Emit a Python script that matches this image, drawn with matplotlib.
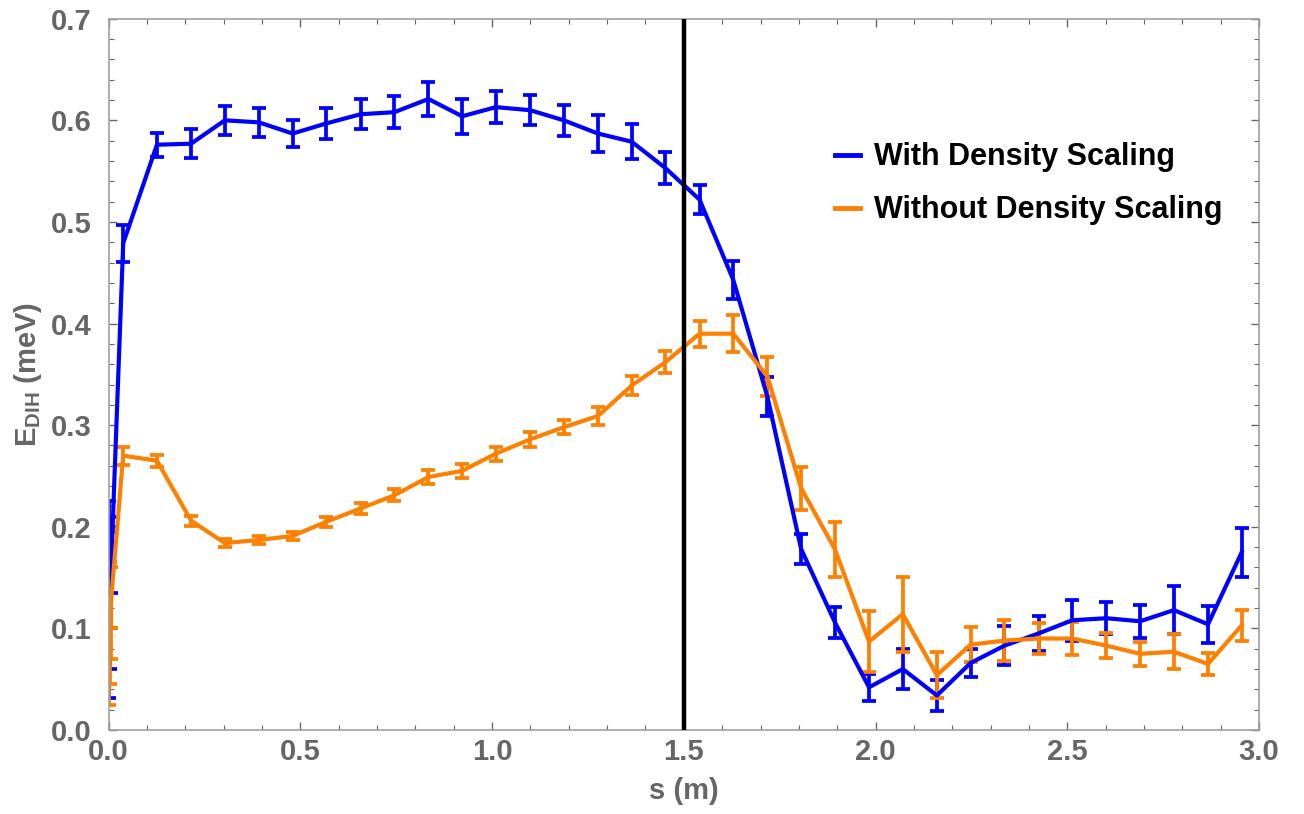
import matplotlib
matplotlib.use("Agg")
import matplotlib.pyplot as plt
from matplotlib.ticker import MultipleLocator
from matplotlib.lines import Line2D

plt.rcParams['font.family'] = ['Liberation Sans', 'DejaVu Sans']
plt.rcParams['font.weight'] = 'bold'
plt.rcParams['axes.labelweight'] = 'bold'
plt.rcParams['mathtext.fontset'] = 'custom'
plt.rcParams['mathtext.rm'] = 'Liberation Sans:bold'

# positions along s (m)
s = [0.001, 0.003, 0.005, 0.007,
     0.038, 0.126, 0.215, 0.303, 0.392, 0.480, 0.568, 0.657, 0.745, 0.834,
     0.922, 1.010, 1.099, 1.187, 1.276, 1.364, 1.452, 1.541, 1.629, 1.718,
     1.806, 1.894, 1.983, 2.071, 2.160, 2.248, 2.336, 2.425, 2.513, 2.602,
     2.690, 2.778, 2.867, 2.955]

# with density scaling
with_val = [0.128, 0.135, 0.150, 0.165,
            0.479, 0.576, 0.577, 0.600, 0.598, 0.587, 0.597, 0.606, 0.608, 0.621,
            0.604, 0.613, 0.610, 0.600, 0.587, 0.579, 0.553, 0.522, 0.443, 0.328,
            0.178, 0.106, 0.042, 0.060, 0.034, 0.066, 0.083, 0.095, 0.108, 0.110,
            0.107, 0.118, 0.104, 0.175]
with_err = [0.097, 0.075, 0.050, 0.030,
            0.018, 0.012, 0.014, 0.014, 0.014, 0.013, 0.015, 0.015, 0.016, 0.017,
            0.017, 0.016, 0.015, 0.015, 0.018, 0.017, 0.016, 0.014, 0.019, 0.019,
            0.015, 0.015, 0.013, 0.020, 0.015, 0.014, 0.019, 0.017, 0.020, 0.016,
            0.016, 0.024, 0.018, 0.024]

# without density scaling
without_val = [0.095, 0.105, 0.115, 0.130,
               0.270, 0.265, 0.206, 0.184, 0.187, 0.191, 0.205, 0.218, 0.231, 0.249,
               0.255, 0.272, 0.286, 0.298, 0.309, 0.339, 0.362, 0.390, 0.390, 0.348,
               0.238, 0.178, 0.087, 0.114, 0.054, 0.084, 0.088, 0.090, 0.090, 0.083,
               0.075, 0.077, 0.065, 0.103]
without_err = [0.070, 0.060, 0.045, 0.030,
               0.009, 0.006, 0.005, 0.004, 0.004, 0.004, 0.005, 0.005, 0.006, 0.007,
               0.007, 0.007, 0.007, 0.007, 0.009, 0.009, 0.011, 0.013, 0.018, 0.019,
               0.021, 0.027, 0.030, 0.037, 0.023, 0.017, 0.020, 0.015, 0.016, 0.012,
               0.012, 0.017, 0.011, 0.015]

labels = ['With Density Scaling', 'Without Density Scaling']
colors = ['#0000ff', '#ff8000']
s_mark = 1.5

gray = '#666666'

fig = plt.figure(figsize=(13.04, 8.14), dpi=100)
ax = fig.add_axes([0.0833, 0.1032, 0.8822, 0.8738])

eb = dict(capsize=4.7, capthick=2.7, elinewidth=2.7, lw=3.0)
ax.errorbar(s, with_val, yerr=with_err, color=colors[0], **eb)
ax.errorbar(s, without_val, yerr=without_err, color=colors[1], **eb)
ax.axvline(s_mark, color='black', lw=3.2, zorder=5)

ax.set_xlim(0, 3.0)
ax.set_ylim(0, 0.7)
ax.xaxis.set_major_locator(MultipleLocator(0.5))
ax.xaxis.set_minor_locator(MultipleLocator(0.1))
ax.yaxis.set_major_locator(MultipleLocator(0.1))
ax.yaxis.set_minor_locator(MultipleLocator(0.02))
ax.xaxis.set_major_formatter(lambda v, p: f'{v:.1f}')
ax.yaxis.set_major_formatter(lambda v, p: f'{v:.1f}')

for side in ax.spines.values():
    side.set_color('#a0a0a0')
    side.set_linewidth(1.2)
ax.tick_params(which='both', direction='in', top=True, right=True,
               color=gray, labelcolor=gray, labelsize=21)
ax.tick_params(which='major', length=5.5, width=1)
ax.tick_params(which='minor', length=3.6, width=0.8)
ax.tick_params(axis='x', pad=6)
ax.tick_params(axis='y', pad=12)

ax.set_xlabel('s (m)', fontsize=21, color=gray, labelpad=8)
ax.set_ylabel(r'$\mathregular{E_{DIH}}$ (meV)', fontsize=21, color=gray, labelpad=5)

handles = [Line2D([], [], color=c, lw=3.5) for c in colors]
ax.legend(handles, labels, loc='upper left', bbox_to_anchor=(0.631, 0.826),
          frameon=False, fontsize=22, handlelength=0.85, handletextpad=0.45,
          labelspacing=0.75, borderpad=0, borderaxespad=0)

fig.savefig('out.png', dpi=100)
